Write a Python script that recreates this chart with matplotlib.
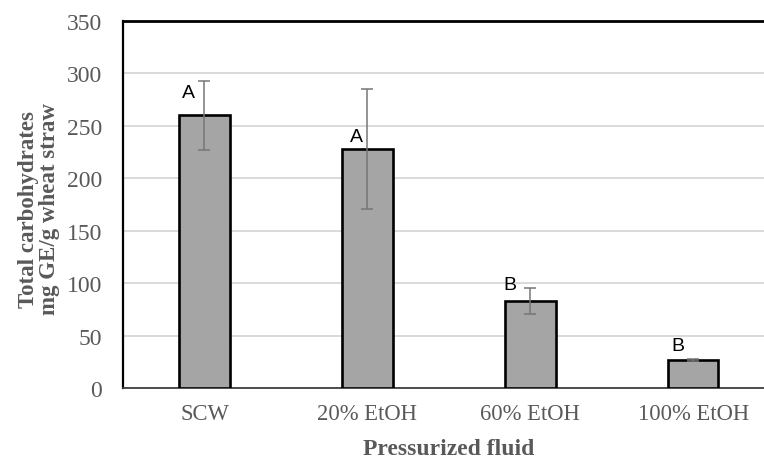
import matplotlib.pyplot as plt
import numpy as np

# total carbohydrates per pressurized fluid
fluids = ['SCW', '20% EtOH', '60% EtOH', '100% EtOH']
carbs = [260, 228, 83, 27]
carbs_err = [33, 57, 12.5, 1]
groups = ['A', 'A', 'B', 'B']
# where each group letter sits relative to its bar top (pixels)
letter_offsets = [(-16, 23), (-11, 12), (-20, 16), (-15, 14)]

grey_txt = '#595959'

fig = plt.figure(figsize=(7.64, 4.6), dpi=100)
ax = fig.add_axes([0.161, 0.1543, 0.853, 0.798])

x = np.arange(len(fluids))
ax.bar(x, carbs, width=0.31, color='#a5a5a5', edgecolor='black', linewidth=1.9, zorder=3)
ax.errorbar(x, carbs, yerr=carbs_err, fmt='none', ecolor='#767676', elinewidth=1.1,
            capsize=4.3, capthick=1.1, zorder=4)

for xi, val, g, off in zip(x, carbs, groups, letter_offsets):
    ax.annotate(g, (xi, val), xytext=off, textcoords='offset pixels',
                ha='center', va='center', fontsize=14, family='Liberation Sans', color='black', zorder=5)

ax.set_xlim(-0.5, len(fluids) - 0.5)
ax.set_ylim(0, 350)
ax.set_yticks(np.arange(0, 351, 50))
ax.set_xticks(x)
ax.set_xticklabels(fluids)
ax.yaxis.grid(True, color='#d9d9d9', linewidth=1.4, zorder=0)
ax.set_axisbelow(True)

for lbl in ax.get_xticklabels():
    lbl.set_family('Liberation Serif')
    lbl.set_color(grey_txt)
    lbl.set_fontsize(16.3)
for lbl in ax.get_yticklabels():
    lbl.set_family('Liberation Serif')
    lbl.set_color(grey_txt)
    lbl.set_fontsize(17)
ax.tick_params(axis='both', length=0)
ax.tick_params(axis='y', pad=15)
ax.tick_params(axis='x', pad=11)

ax.spines['left'].set_linewidth(1.6)
ax.spines['top'].set_linewidth(2.0)
ax.spines['bottom'].set_linewidth(1.3)
ax.spines['bottom'].set_color('#404040')
ax.spines['right'].set_visible(False)

ax.set_ylabel('Total carbohydrates\nmg GE/g wheat straw', family='Liberation Serif',
              fontweight='bold', fontsize=16.5, color=grey_txt, linespacing=1.0)
ax.yaxis.set_label_coords(-0.097, 0.49)
ax.set_xlabel('Pressurized fluid', family='Liberation Serif', fontweight='bold',
              fontsize=17, color=grey_txt)
ax.xaxis.set_label_coords(0.5, -0.137)

fig.savefig('out.png', dpi=100)
